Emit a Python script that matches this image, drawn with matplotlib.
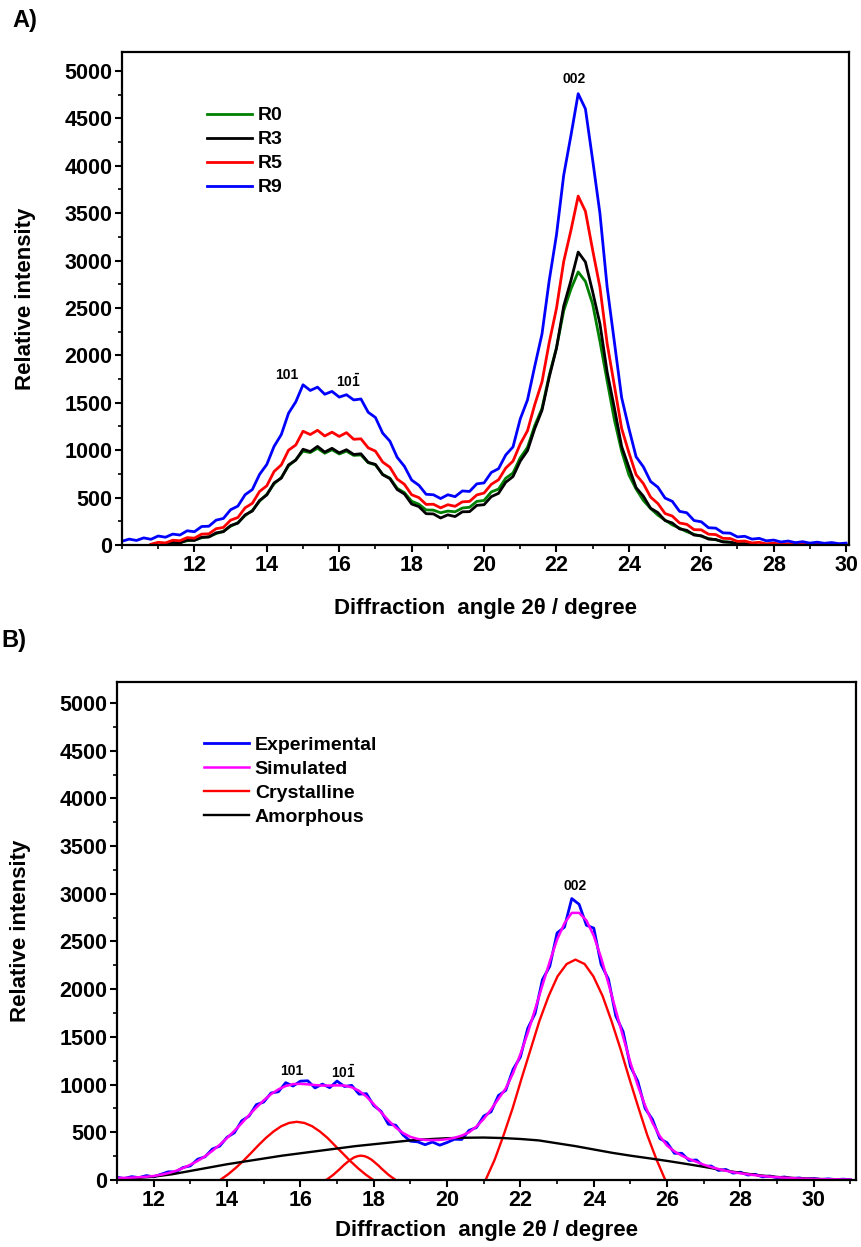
import numpy as np
import matplotlib
matplotlib.use("Agg")
import matplotlib.pyplot as plt
from matplotlib.ticker import MultipleLocator

plt.rcParams['font.family'] = ['Liberation Sans', 'DejaVu Sans']
plt.rcParams['font.weight'] = 'bold'
plt.rcParams['mathtext.fontset'] = 'custom'
plt.rcParams['mathtext.rm'] = 'Liberation Sans:bold'
plt.rcParams['mathtext.bf'] = 'Liberation Sans:bold'
plt.rcParams['mathtext.default'] = 'rm'

nan = np.nan

# ---------------- Panel A data ----------------
angle_a = np.round(np.arange(10.0, 30.001, 0.2), 1)

r9 = [40, 62, 48, 75, 60, 95, 82, 115, 105, 150,
      140, 195, 198, 262, 280, 372, 410, 530, 585, 745,
      850, 1040, 1165, 1390, 1510, 1690, 1630, 1665, 1590, 1620,
      1560, 1585, 1530, 1540, 1400, 1345, 1180, 1095, 925, 830,
      685, 630, 535, 530, 490, 530, 510, 570, 565, 645,
      655, 765, 805, 950, 1035, 1330, 1530, 1885, 2225, 2790,
      3270, 3900, 4320, 4760, 4600, 4060, 3500, 2720, 2140, 1555,
      1230, 930, 825, 670, 610, 495, 460, 355, 340, 258,
      245, 182, 178, 128, 125, 85, 92, 62, 70, 44,
      52, 32, 42, 25, 35, 20, 30, 18, 26, 14,
      20]

r5 = [nan, nan, nan, nan, 8, 28, 22, 50, 45, 78,
      72, 115, 118, 172, 185, 262, 290, 392, 440, 565,
      625, 775, 845, 1000, 1055, 1200, 1165, 1210, 1150, 1190,
      1145, 1185, 1115, 1120, 1025, 990, 875, 820, 695, 640,
      530, 500, 428, 430, 392, 425, 408, 455, 460, 528,
      548, 640, 688, 812, 885, 1065, 1205, 1480, 1720, 2135,
      2495, 2990, 3320, 3680, 3520, 3110, 2720, 2125, 1680, 1230,
      975, 742, 648, 505, 438, 332, 305, 232, 218, 162,
      160, 114, 110, 70, 68, 38, 42, 22, 28, 12,
      20, 8, 14, 5, 10, 3, 8, 4, 7, 3,
      5]

r3 = [nan, nan, nan, nan, nan, nan, 5, 28, 22, 52,
      48, 82, 84, 128, 140, 205, 230, 318, 358, 470,
      528, 655, 705, 845, 895, 1010, 985, 1040, 980, 1020,
      972, 1005, 955, 962, 872, 850, 742, 700, 585, 538,
      432, 405, 330, 328, 285, 318, 300, 350, 352, 418,
      425, 510, 545, 662, 722, 885, 995, 1228, 1420, 1770,
      2075, 2520, 2790, 3090, 2985, 2670, 2335, 1825, 1445, 1040,
      820, 605, 515, 388, 342, 258, 232, 170, 155, 105,
      98, 62, 58, 32, 30, 12, 14, 3, nan, nan,
      nan, nan, nan, nan, nan, nan, nan, nan, nan, nan,
      nan]

r0 = [nan, nan, nan, nan, nan, nan, 8, 22, 26, 45,
      52, 76, 88, 120, 145, 198, 236, 310, 365, 462,
      535, 645, 712, 835, 900, 990, 975, 1020, 968, 1005,
      960, 990, 945, 950, 868, 845, 745, 705, 598, 552,
      462, 430, 370, 368, 340, 358, 350, 390, 398, 460,
      470, 560, 590, 705, 760, 920, 1030, 1260, 1440, 1790,
      2080, 2470, 2700, 2880, 2780, 2540, 2150, 1730, 1320, 990,
      740, 590, 470, 385, 315, 262, 212, 178, 140, 112,
      92, 68, 55, 36, 28, 14, 12, 4, nan, nan,
      nan, nan, nan, nan, nan, nan, nan, nan, nan, nan,
      nan]

labels_a = ["R0", "R3", "R5", "R9"]
colors_a = ["#008000", "#000000", "#ff0000", "#0000ff"]

# ---------------- Panel B data ----------------
angle_b = np.round(np.arange(11.0, 31.001, 0.2), 1)

experimental = [28, 16, 35, 25, 46, 34, 60, 86, 85, 131,
                148, 218, 243, 325, 355, 448, 495, 620, 670, 790,
                817, 912, 925, 1020, 985, 1036, 1040, 965, 1005, 968,
                1037, 980, 992, 900, 905, 780, 720, 585, 575, 472,
                407, 400, 370, 398, 365, 393, 427, 425, 520, 550,
                670, 715, 885, 940, 1160, 1290, 1590, 1745, 2100, 2240,
                2590, 2650, 2950, 2890, 2670, 2640, 2260, 2105, 1720, 1555,
                1190, 1035, 750, 635, 435, 390, 280, 280, 205, 210,
                142, 147, 100, 111, 72, 82, 52, 60, 33, 42,
                23, 32, 15, 22, 9, 16, 6, 12, 4, 9,
                3]

simulated = [20, 22, 25, 29, 34, 42, 55, 72, 95, 125,
             160, 200, 248, 305, 370, 440, 515, 595, 680, 760,
             835, 900, 950, 985, 1005, 1008, 1003, 995, 990, 990,
             992, 990, 972, 935, 875, 795, 710, 625, 550, 492,
             452, 430, 420, 418, 420, 428, 442, 465, 500, 560,
             640, 740, 850, 960, 1120, 1320, 1540, 1790, 2040, 2290,
             2520, 2690, 2800, 2800, 2720, 2560, 2330, 2060, 1780, 1500,
             1230, 990, 780, 600, 460, 360, 300, 255, 220, 190,
             160, 135, 115, 97, 82, 70, 60, 50, 42, 35,
             29, 24, 20, 16, 13, 11, 9, 8, 7, 6,
             5]

amorph_x = np.round(np.arange(11.0, 30.501, 0.5), 1)
amorphous = [10, 20, 35, 60, 95, 130, 165, 195, 225, 255,
             280, 305, 330, 355, 375, 395, 415, 428, 438, 443,
             445, 440, 430, 415, 385, 355, 320, 285, 255, 228,
             200, 170, 138, 105, 75, 50, 32, 20, 12, 6]

cryst1_x = [13.60, 13.81, 14.02, 14.23, 14.44, 14.65, 14.85, 15.06, 15.27, 15.48, 15.69, 15.90,
            16.11, 16.32, 16.53, 16.74, 16.94, 17.15, 17.36, 17.57, 17.78, 17.99, 18.20]
cryst1 = [-49, 0, 57, 124, 199, 281, 362, 441, 509, 564, 598, 610,
          598, 564, 509, 441, 362, 281, 199, 124, 57, 0, -49]

cryst2_x = [16.60, 16.70, 16.79, 16.89, 16.98, 17.08, 17.17, 17.27, 17.37, 17.46, 17.56, 17.65,
            17.75, 17.84, 17.94, 18.03, 18.13, 18.22, 18.32, 18.41, 18.51, 18.60, 18.70]
cryst2 = [-20, 0, 24, 52, 83, 117, 151, 184, 213, 236, 250, 255,
          250, 236, 213, 184, 151, 117, 83, 52, 24, 0, -20]

cryst3_x = [20.81, 21.05, 21.30, 21.54, 21.79, 22.03, 22.28, 22.52, 22.77, 23.01, 23.26, 23.50,
            23.75, 23.99, 24.24, 24.48, 24.73, 24.97, 25.22, 25.46, 25.71, 25.95, 26.20]
cryst3 = [-185, 0, 215, 469, 755, 1063, 1372, 1670, 1929, 2134, 2264, 2310,
          2264, 2134, 1929, 1670, 1372, 1063, 755, 469, 215, 0, -185]

y_ticks = list(range(0, 5001, 500))
x_ticks = list(range(12, 31, 2))

# ---------------- Figure ----------------
W, H = 861, 1247
fig = plt.figure(figsize=(W / 100, H / 100), dpi=100)

axA = fig.add_axes([122 / W, 1 - 545 / H, (849 - 122) / W, (545 - 52) / H])
axB = fig.add_axes([117 / W, 1 - 1180 / H, (856 - 117) / W, (1180 - 682) / H])

tick_fs = 15.5
lab_fs = 16


def style(ax, xlim, ylim, xpad, ypad):
    ax.set_xlim(*xlim)
    ax.set_ylim(*ylim)
    ax.set_yticks(y_ticks)
    ax.set_xticks(x_ticks)
    ax.yaxis.set_minor_locator(MultipleLocator(250))
    ax.xaxis.set_minor_locator(MultipleLocator(1))
    ax.tick_params(which='major', direction='out', length=5, width=1.5,
                   labelsize=tick_fs, pad=2, top=False, right=False)
    ax.tick_params(which='minor', direction='out', length=3, width=1.2,
                   top=False, right=False)
    for lbl in ax.get_xticklabels() + ax.get_yticklabels():
        lbl.set_fontweight('bold')
    for s in ax.spines.values():
        s.set_linewidth(1.6)
    ax.set_xlabel("Diffraction  angle 2\u03b8 / degree", fontsize=lab_fs,
                  fontweight='bold', labelpad=xpad)
    ax.set_ylabel("Relative intensity", fontsize=lab_fs, fontweight='bold',
                  labelpad=ypad)


leg_kw = dict(loc='upper left', frameon=False, handlelength=2.3, handletextpad=0.3,
              labelspacing=0.33, borderpad=0, borderaxespad=0,
              prop={'weight': 'bold', 'size': 14})

# Panel A
for vals, lab, col in zip([r0, r3, r5, r9], labels_a, colors_a):
    axA.plot(angle_a, vals, color=col, lw=2.0, label=lab)
style(axA, (10.0, 30.08), (0, 5200), 16, 20)
axA.legend(bbox_to_anchor=(0.117, 0.889), **leg_kw)
axA.text(14.55, 1790, "101", fontsize=10, fontweight='bold', ha='center', va='center')
axA.text(16.24, 1725, "$10\\bar{1}$", fontsize=10, ha='center', va='center')
axA.text(22.48, 4910, "002", fontsize=10, fontweight='bold', ha='center', va='center')

# Panel B
hB = []
hB.append(axB.plot(angle_b, experimental, color="#0000ff", lw=2.0, label="Experimental")[0])
c1 = axB.plot(cryst1_x, cryst1, color="#ff0000", lw=1.7, label="Crystalline")[0]
axB.plot(cryst2_x, cryst2, color="#ff0000", lw=1.7)
axB.plot(cryst3_x, cryst3, color="#ff0000", lw=1.7)
am = axB.plot(amorph_x, amorphous, color="#000000", lw=1.7, label="Amorphous")[0]
sm = axB.plot(angle_b, simulated, color="#ff00ff", lw=1.8, label="Simulated")[0]
hB += [sm, c1, am]
style(axB, (11.0, 31.15), (0, 5220), 7, 20)
axB.legend(handles=hB, bbox_to_anchor=(0.118, 0.891), **leg_kw)
axB.text(15.77, 1140, "101", fontsize=10, fontweight='bold', ha='center', va='center')
axB.text(17.18, 1130, "$10\\bar{1}$", fontsize=10, ha='center', va='center')
axB.text(23.49, 3085, "002", fontsize=10, fontweight='bold', ha='center', va='center')

fig.text(12 / W, 1 - 20 / H, "A)", fontsize=17, fontweight='bold', ha='left', va='center')
fig.text(1 / W, 1 - 640 / H, "B)", fontsize=17, fontweight='bold', ha='left', va='center')

fig.savefig("out.png", dpi=100)
